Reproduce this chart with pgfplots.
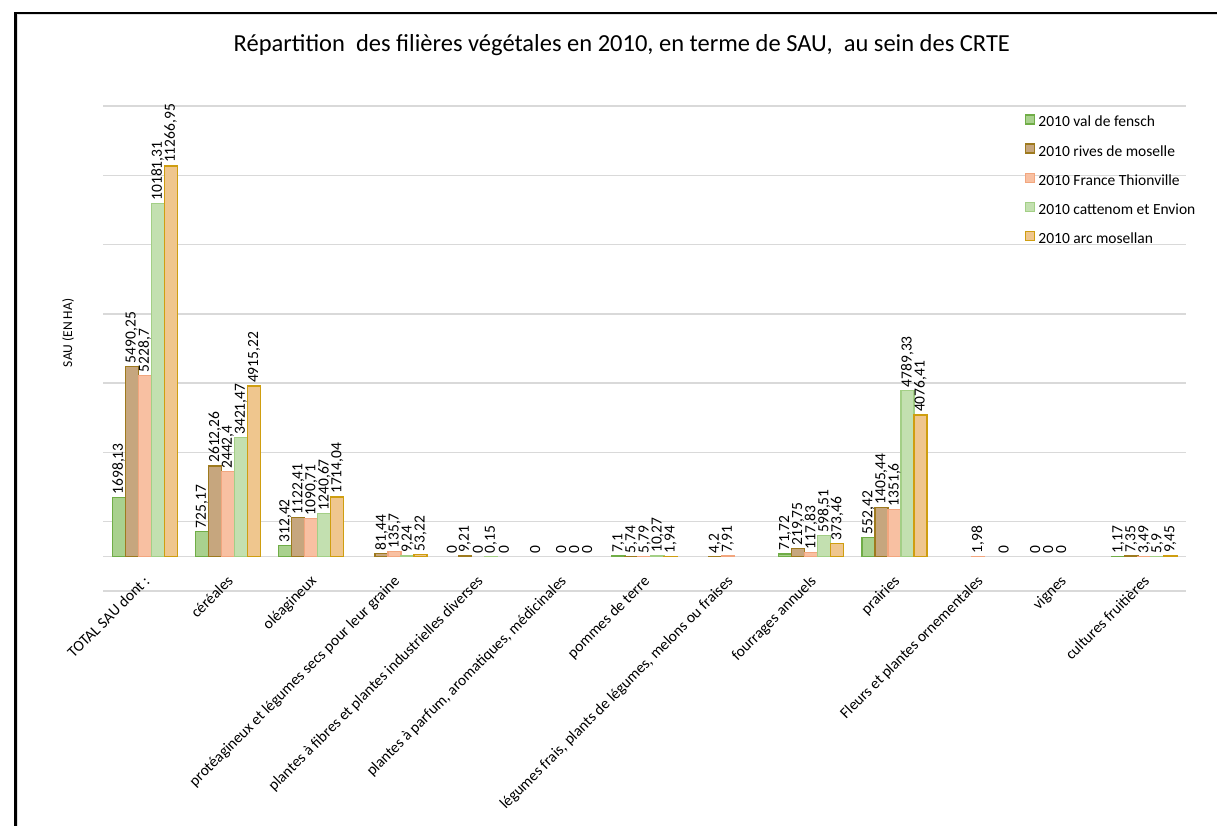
\documentclass[border=0pt]{standalone}
\usepackage{fontspec}
\setmainfont{Carlito}
\usepackage{pgfplots}
\pgfplotsset{compat=1.18}
\definecolor{s1f}{HTML}{A9D18E}\definecolor{s1d}{HTML}{70AD47}
\definecolor{s2f}{HTML}{C6A67E}\definecolor{s2d}{HTML}{9E7A1E}
\definecolor{s3f}{HTML}{F8C0A2}\definecolor{s3d}{HTML}{F2A67E}
\definecolor{s4f}{HTML}{C3E0B0}\definecolor{s4d}{HTML}{A3CF86}
\definecolor{s5f}{HTML}{EFC68E}\definecolor{s5d}{HTML}{CF9E10}
\pgfplotstableread{
x y l
0 1698.13 1698,13
1 725.17 725,17
2 312.42 312,42
6 7.1 7,1
8 71.72 71,72
9 552.42 552,42
12 1.17 1,17
}\sA
\pgfplotstableread{
x y l
4 0 0
5 0 0
11 0 0
}\sAz
\pgfplotstableread{
x y l
0 5490.25 5490,25
1 2612.26 2612,26
2 1122.41 1122,41
3 81.44 81,44
4 9.21 9,21
6 5.74 5,74
7 4.2 4,2
8 219.75 219,75
9 1405.44 1405,44
12 7.35 7,35
}\sB
\pgfplotstableread{
x y l
11 0 0
}\sBz
\pgfplotstableread{
x y l
0 5228.7 5228,7
1 2442.4 2442,4
2 1090.71 1090,71
3 135.7 135,7
6 5.79 5,79
7 7.91 7,91
8 117.83 117,83
9 1351.6 1351,6
10 1.98 1,98
12 3.49 3,49
}\sC
\pgfplotstableread{
x y l
4 0 0
5 0 0
11 0 0
}\sCz
\pgfplotstableread{
x y l
0 10181.31 10181,31
1 3421.47 3421,47
2 1240.67 1240,67
3 9.24 9,24
4 0.15 0,15
6 10.27 10,27
8 598.51 598,51
9 4789.33 4789,33
12 5.9 5,9
}\sD
\pgfplotstableread{
x y l
5 0 0
}\sDz
\pgfplotstableread{
x y l
0 11266.95 11266,95
1 4915.22 4915,22
2 1714.04 1714,04
3 53.22 53,22
6 1.94 1,94
8 373.46 373,46
9 4076.41 4076,41
12 9.45 9,45
}\sE
\pgfplotstableread{
x y l
4 0 0
5 0 0
10 0 0
}\sEz
\begin{document}
\begin{tikzpicture}
\path[use as bounding box] (-103pt,-234pt) rectangle (1114pt,591pt);
\draw[line width=2.5pt] (-87.5pt,-240pt) -- (-87.5pt,578pt) -- (1120pt,578pt);
\draw[gray!25, line width=1pt] (-85pt,-240pt) -- (-85pt,576pt) -- (1120pt,576pt);
\begin{axis}[
  at={(0pt,0pt)}, anchor=south west,
  scale only axis, width=1083pt, height=485pt,
  xmin=-0.5, xmax=12.5, ymin=-1000, ymax=13000,
  ybar=0pt, bar width=13pt,
  axis line style={draw=none},
  major tick length=0pt,
  scaled y ticks=false,
  ytick={-1000,1000,...,13000}, yticklabels={},
  extra y ticks={0}, extra y tick labels={},
  ymajorgrids, grid style={draw=gray!30, line width=1.3pt},
  extra y tick style={grid style={draw=gray!30, line width=1.3pt}},
  xtick={0,...,12},
  xticklabels={{TOTAL SAU dont :},céréales,oléagineux,{protéagineux et légumes secs pour leur graine},{plantes à fibres et plantes industrielles diverses},{plantes à parfum, aromatiques, médicinales},{pommes de terre},{légumes frais, plants de légumes, melons ou fraises},{fourrages annuels},prairies,{Fleurs et plantes ornementales},vignes,{cultures fruitières}},
  xticklabel style={xshift=6pt, yshift=9pt, rotate=45, anchor=base east, inner sep=0pt, font=\fontsize{15.5}{18}\selectfont},
  title={Répartition\ \ des filières végétales en 2010, en terme de SAU,\ \ au sein des CRTE},
  title style={at={(axis description cs:0.479,1.1134)}, anchor=center, font=\fontsize{24.5}{28}\selectfont},
  ylabel={SAU (EN HA)},
  ylabel style={at={(axis description cs:-0.0323,0.532)}, anchor=center, font=\fontsize{13.5}{16}\selectfont},
  legend style={at={(axis description cs:0.8513,0.9835)}, anchor=north west, draw=none, fill=none, inner sep=0pt, font=\fontsize{15.5}{18}\selectfont, row sep=13.5pt, column sep=3pt, nodes={inner sep=0pt, text height=11pt, text depth=3pt}},
  legend cell align=left,
  legend image code/.code={\draw[#1, line width=1.3pt] (0pt,-1pt) rectangle (9pt,8pt);},
  lab/.style={nodes near coords, point meta=explicit symbolic},
  every node near coord/.append style={rotate=90, anchor=west, inner sep=2.5pt, fill=none, draw=none, text=black, font=\fontsize{15.5}{16}\selectfont},
]
\addplot[lab, bar shift=-26pt, fill=s1f, draw=s1d, line width=1.3pt] table[x=x,y=y,meta=l] {\sA};
\addlegendentry{2010 val de fensch}
\addplot[lab, bar shift=-13pt, fill=s2f, draw=s2d, line width=1.3pt] table[x=x,y=y,meta=l] {\sB};
\addlegendentry{2010 rives de moselle}
\addplot[lab, bar shift=0pt, fill=s3f, draw=s3d, line width=1.3pt] table[x=x,y=y,meta=l] {\sC};
\addlegendentry{2010 France Thionville}
\addplot[lab, bar shift=13pt, fill=s4f, draw=s4d, line width=1.3pt] table[x=x,y=y,meta=l] {\sD};
\addlegendentry{2010 cattenom et Envion}
\addplot[lab, bar shift=26pt, fill=s5f, draw=s5d, line width=1.3pt] table[x=x,y=y,meta=l] {\sE};
\addlegendentry{2010 arc mosellan}
\addplot[lab, forget plot, bar shift=-26pt, draw=none, fill=none] table[x=x,y=y,meta=l] {\sAz};
\addplot[lab, forget plot, bar shift=-13pt, draw=none, fill=none] table[x=x,y=y,meta=l] {\sBz};
\addplot[lab, forget plot, bar shift=0pt, draw=none, fill=none] table[x=x,y=y,meta=l] {\sCz};
\addplot[lab, forget plot, bar shift=13pt, draw=none, fill=none] table[x=x,y=y,meta=l] {\sDz};
\addplot[lab, forget plot, bar shift=26pt, draw=none, fill=none] table[x=x,y=y,meta=l] {\sEz};
\end{axis}
\end{tikzpicture}
\end{document}
